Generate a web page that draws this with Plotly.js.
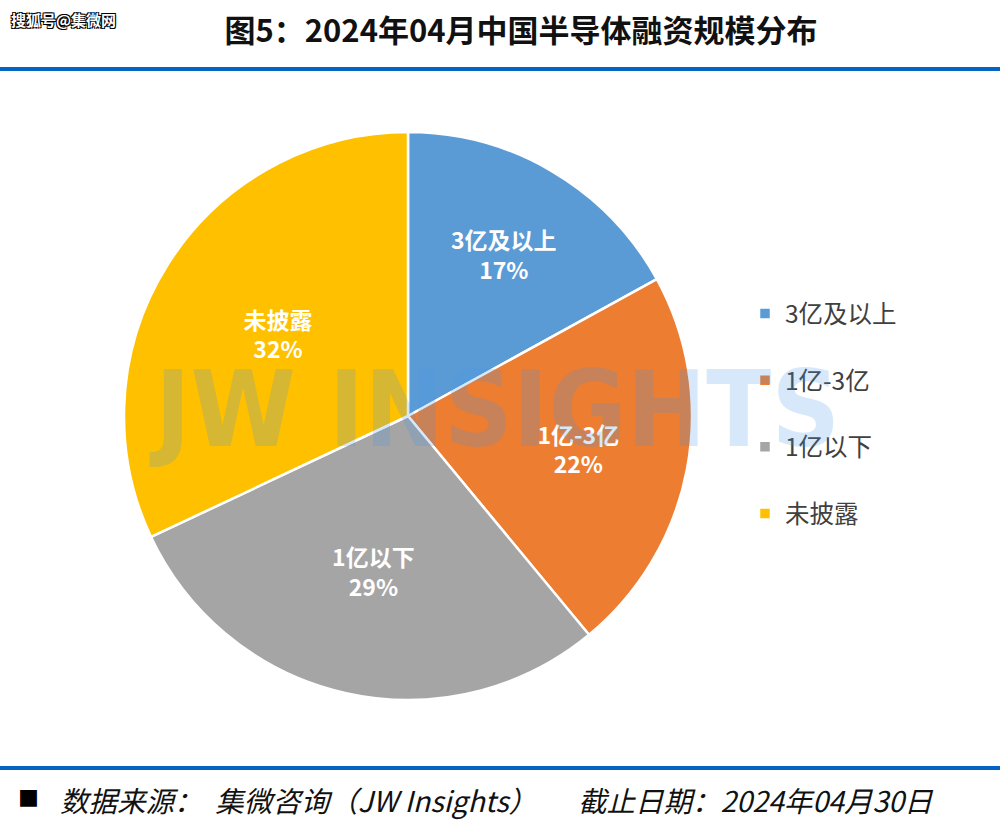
<!DOCTYPE html>
<html>
<head>
<meta charset="utf-8">
<script src="https://cdn.plot.ly/plotly-3.0.1.min.js"></script>
<style>
  html, body { margin: 0; padding: 0; background: #ffffff; }
  #chart { width: 1000px; height: 833px; }
</style>
</head>
<body>
<div id="chart"></div>
<script>
// ---- data ----
const categories = ["3亿及以上", "1亿-3亿", "1亿以下", "未披露"];
const shares = [17, 22, 29, 32];
const sliceColors = ["#5B9BD5", "#ED7D31", "#A5A5A5", "#FFC000"];
const chartTitle = "图5：2024年04月中国半导体融资规模分布";
const sourceNote = "数据来源：  集微咨询（JW Insights）";
const dateNote = "截止日期：2024年04月30日";
const siteMark = "搜狐号@集微网";
const brandMark = "JW INSIGHTS";

const FONT = "'Noto Sans CJK SC', 'Noto Sans', sans-serif";

// legend labels padded with an empty second line to widen spacing
const legendLabels = categories.map(c => c + "<br> ");

const trace = {
  type: "pie",
  labels: legendLabels,
  values: shares,
  customdata: categories,
  sort: false,
  direction: "clockwise",
  rotation: 0,
  marker: { colors: sliceColors, line: { color: "#ffffff", width: 2.5 } },
  texttemplate: "%{customdata}<br>%{value}%",
  textposition: "inside",
  insidetextorientation: "horizontal",
  insidetextfont: { color: "#ffffff", size: 23, family: FONT, weight: "bold" },
  hoverinfo: "none",
  domain: { x: [0.124, 0.692], y: [0.1585, 0.8427] }
};

const layout = {
  width: 1000,
  height: 833,
  margin: { l: 0, r: 0, t: 0, b: 0 },
  paper_bgcolor: "#ffffff",
  showlegend: true,
  legend: {
    x: 0.745, y: 1 - 291 / 833, xanchor: "left", yanchor: "top",
    valign: "top",
    font: { family: FONT, size: 24.5, color: "#404040" },
    bgcolor: "rgba(0,0,0,0)"
  },
  title: {
    text: chartTitle,
    x: 0.521, xanchor: "center",
    y: 1 - 31 / 833, yanchor: "middle", yref: "container",
    font: { family: FONT, size: 31, color: "#111111", weight: "bold" }
  },
  shapes: [
    { type: "line", xref: "paper", yref: "paper", x0: 0, x1: 1, y0: 1 - 69 / 833, y1: 1 - 69 / 833,
      line: { color: "#0563C1", width: 4 } },
    { type: "line", xref: "paper", yref: "paper", x0: 0, x1: 1, y0: 1 - 768 / 833, y1: 1 - 768 / 833,
      line: { color: "#0563C1", width: 4 } }
  ],
  annotations: [
    { text: brandMark, xref: "paper", yref: "paper", x: 0.494, y: 1 - 410 / 833,
      xanchor: "center", yanchor: "middle", showarrow: false,
      font: { family: "'DejaVu Sans Condensed', 'DejaVu Sans', sans-serif", size: 106, weight: "bold",
              color: "rgba(70,150,230,0.22)" } },
    { text: siteMark, xref: "paper", yref: "paper", x: 0.009, y: 1 - 20 / 833,
      xanchor: "left", yanchor: "middle", showarrow: false,
      font: { family: FONT, size: 15, color: "#ffffff", weight: "bold",
              shadow: "1px 1px 0 #000, -1px -1px 0 #000, 1px -1px 0 #000, -1px 1px 0 #000" } },
    { text: "■", xref: "paper", yref: "paper", x: 0.016, y: 1 - 797 / 833,
      xanchor: "left", yanchor: "middle", showarrow: false,
      font: { family: FONT, size: 21, color: "#000000" } },
    { text: "<i>" + sourceNote + "</i>", xref: "paper", yref: "paper", x: 0.058, y: 1 - 799 / 833,
      xanchor: "left", yanchor: "middle", showarrow: false,
      font: { family: FONT, size: 28.5, color: "#111111" } },
    { text: "<i>" + dateNote + "</i>", xref: "paper", yref: "paper", x: 0.576, y: 1 - 799 / 833,
      xanchor: "left", yanchor: "middle", showarrow: false,
      font: { family: FONT, size: 28.5, color: "#111111" } }
  ]
};

Plotly.newPlot("chart", [trace], layout, { staticPlot: true, displayModeBar: false });
</script>
</body>
</html>
